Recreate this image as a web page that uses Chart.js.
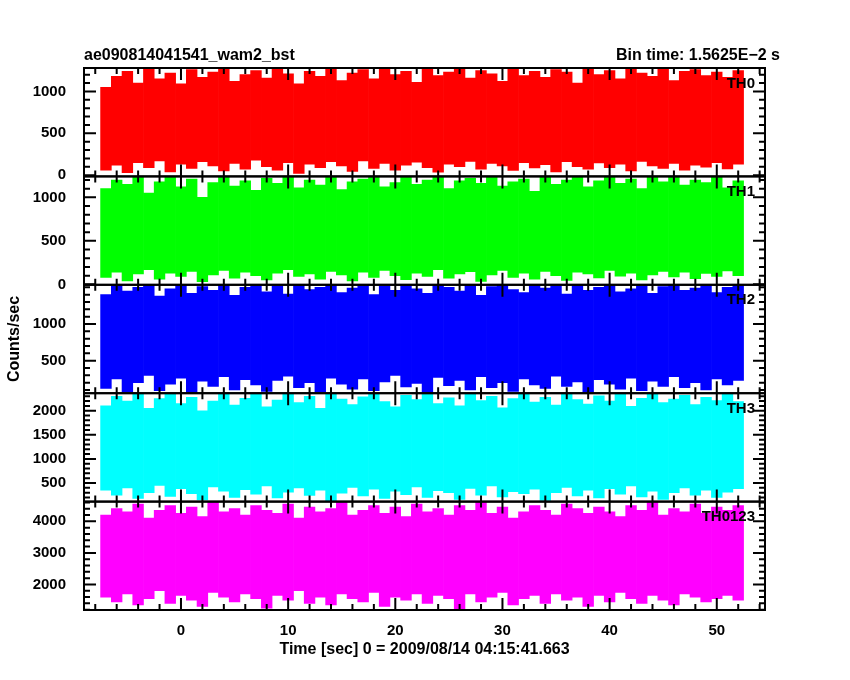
<!DOCTYPE html>
<html><head><meta charset="utf-8">
<script src="https://cdn.jsdelivr.net/npm/chart.js@4"></script>
<style>html,body{margin:0;background:#fff}#wrap{width:850px;height:680px}</style>
</head><body><div id="wrap"><canvas id="c"></canvas></div>
<script>
// time bins (sec, relative to 2009/08/14 04:15:41.663)
const binCenters = [];
for (let t = -7; t <= 52; t++) binCenters.push(t);

const panelNames = ['TH0', 'TH1', 'TH2', 'TH3', 'TH0123'];
const panelColors = ['#ff0000', '#00ff00', '#0000ff', '#00ffff', '#ff00ff'];
const panelRanges = [[-15, 1280], [-5, 1241], [56, 1535], [114, 2364], [1190, 4625]];
const majorTicks = [[0, 500, 1000], [0, 500, 1000], [500, 1000], [500, 1000, 1500, 2000], [2000, 3000, 4000]];
const minorStep = [100, 100, 100, 100, 200];
const xMajor = [0, 10, 20, 30, 40, 50];

const th0Hi = [1050,1180,1240,1100,1280,1150,1220,1090,1260,1170,1230,1280,1120,1200,1250,1160,1280,1210,1090,1240,1180,1270,1130,1220,1260,1150,1280,1200,1240,1110,1270,1190,1230,1280,1160,1250,1210,1120,1280,1190,1240,1170,1260,1230,1100,1280,1200,1250,1150,1270,1220,1180,1280,1130,1240,1260,1190,1230,1170,1250];
const th0Lo = [60,120,30,150,90,170,40,130,80,160,110,50,140,70,180,100,60,150,20,130,90,160,110,45,170,80,140,60,120,155,90,35,130,100,165,70,140,110,55,150,85,125,40,160,100,70,145,90,130,50,165,110,80,140,60,120,95,150,75,130];
const th1Hi = [1100,1200,1150,1240,1050,1180,1230,1120,1210,1000,1170,1240,1130,1190,1080,1220,1160,1240,1110,1200,1140,1230,1090,1180,1210,1240,1120,1170,1230,1150,1200,1240,1100,1190,1220,1160,1240,1130,1180,1210,1070,1240,1150,1200,1230,1120,1190,1240,1160,1210,1100,1230,1180,1240,1140,1200,1170,1230,1110,1190];
const th1Lo = [80,140,40,120,170,60,130,90,150,30,110,160,70,140,100,50,130,170,90,120,60,150,110,40,140,80,160,100,55,130,90,170,70,120,145,35,110,160,80,130,60,150,100,45,140,120,75,160,95,130,50,110,150,85,140,65,125,90,155,100];
const th2Hi = [1400,1535,1450,1500,1535,1380,1480,1535,1420,1510,1460,1535,1390,1500,1535,1440,1520,1410,1535,1470,1500,1535,1430,1490,1535,1400,1520,1460,1535,1480,1420,1535,1500,1450,1535,1390,1510,1535,1470,1430,1535,1490,1520,1410,1535,1460,1500,1535,1440,1480,1535,1420,1510,1535,1460,1490,1535,1430,1500,1535];
const th2Lo = [120,250,70,200,300,90,180,260,60,220,150,280,100,240,170,80,230,290,130,200,70,260,180,110,250,90,210,300,140,190,60,270,160,230,100,280,130,200,80,250,170,120,290,150,210,70,240,180,110,260,90,220,150,280,130,200,100,250,170,230];
const th3Hi = [2100,2300,2200,2364,2050,2250,2364,2150,2280,2000,2200,2364,2120,2260,2340,2080,2220,2364,2170,2300,2050,2364,2240,2130,2290,2364,2190,2080,2320,2230,2364,2150,2270,2100,2364,2210,2300,2060,2250,2364,2180,2280,2120,2364,2230,2140,2310,2200,2364,2090,2260,2364,2170,2240,2320,2130,2280,2210,2364,2190];
const th3Lo = [350,250,400,180,300,450,220,380,280,150,420,330,200,360,270,440,190,310,400,240,350,130,290,410,230,370,180,330,260,420,200,340,300,160,390,250,440,210,320,280,370,140,300,410,230,350,190,380,270,440,210,330,160,300,400,250,350,200,310,380];
const th0123Hi = [4200,4400,4300,4550,4100,4350,4500,4250,4450,4150,4600,4300,4400,4200,4500,4350,4250,4550,4100,4450,4300,4400,4600,4200,4350,4500,4250,4450,4150,4550,4300,4400,4200,4500,4350,4600,4250,4450,4100,4300,4500,4350,4200,4550,4400,4250,4450,4300,4150,4500,4350,4600,4200,4400,4300,4550,4250,4450,4350,4500];
const th0123Lo = [1600,1450,1700,1350,1550,1800,1400,1650,1500,1300,1750,1600,1450,1700,1550,1250,1650,1500,1800,1400,1600,1350,1700,1550,1450,1750,1300,1600,1500,1700,1400,1650,1550,1200,1700,1450,1600,1750,1350,1550,1650,1400,1700,1500,1600,1300,1650,1450,1750,1550,1400,1650,1500,1350,1700,1600,1450,1550,1650,1500];
const hiSeries = [th0Hi, th1Hi, th2Hi, th3Hi, th0123Hi];
const loSeries = [th0Lo, th1Lo, th2Lo, th3Lo, th0123Lo];

const FONT = 'Liberation Sans';
const datasets = panelNames.map((n, i) => ({
  type: 'bar', label: n, yAxisID: 'y' + i,
  data: binCenters.map((t, k) => ({ x: t, y: [loSeries[i][k], hiSeries[i][k]] })),
  backgroundColor: panelColors[i], borderWidth: 0, barPercentage: 1, categoryPercentage: 1, grouped: false
}));

const scales = {
  x: {
    type: 'linear', min: -9.05, max: 54.5, offset: false,
    afterBuildTicks: s => { s.ticks = xMajor.map(v => ({ value: v })); },
    afterFit: s => { s.height = 50; },
    grid: { display: false }, border: { display: false },
    ticks: { color: '#000', font: { family: FONT, size: 15, weight: 'bold' }, padding: 4, maxRotation: 0, autoSkip: false, callback: v => String(v) }
  }
};
// stacked axes are laid out bottom-up, so add the bottom panel first
for (let i = panelNames.length - 1; i >= 0; i--) {
  scales['y' + i] = {
    type: 'linear', position: 'left', stack: 'panels', stackWeight: 1,
    min: panelRanges[i][0], max: panelRanges[i][1],
    afterBuildTicks: s => { s.ticks = majorTicks[i].map(v => ({ value: v })); },
    afterFit: s => { s.width = 84; },
    grid: { display: false }, border: { display: false },
    ticks: { color: '#000', font: { family: FONT, size: 15, weight: 'bold' }, padding: 10, autoSkip: false, callback: v => String(v) }
  };
}

const frame = {
  id: 'frame',
  afterDraw(chart) {
    const ctx = chart.ctx, a = chart.chartArea, xs = chart.scales.x;
    ctx.save();
    ctx.strokeStyle = '#000';
    ctx.lineWidth = 2;
    panelNames.forEach((n, i) => {
      const s = chart.scales['y' + i];
      ctx.strokeRect(a.left, s.top, a.right - a.left, s.bottom - s.top);
      const first = Math.ceil(s.min / minorStep[i]) * minorStep[i];
      for (let v = first; v <= s.max; v += minorStep[i]) {
        const y = s.getPixelForValue(v);
        const len = majorTicks[i].includes(v) ? 12 : 6;
        ctx.beginPath();
        ctx.moveTo(a.left, y); ctx.lineTo(a.left + len, y);
        ctx.moveTo(a.right, y); ctx.lineTo(a.right - len, y);
        ctx.stroke();
      }
      for (let t = -8; t <= 54; t += 2) {
        const x = xs.getPixelForValue(t);
        const len = t % 10 === 0 ? 12 : 6;
        ctx.beginPath();
        ctx.moveTo(x, s.bottom); ctx.lineTo(x, s.bottom - len);
        ctx.moveTo(x, s.top); ctx.lineTo(x, s.top + len);
        ctx.stroke();
      }
      ctx.fillStyle = '#000';
      ctx.font = 'bold 15px ' + FONT;
      ctx.textAlign = 'right'; ctx.textBaseline = 'top';
      ctx.fillText(n, a.right - 10, s.top + 8);
    });
    ctx.font = 'bold 16px ' + FONT;
    ctx.textBaseline = 'alphabetic';
    ctx.textAlign = 'left';
    ctx.fillText('ae090814041541_wam2_bst', a.left, 60);
    ctx.textAlign = 'right';
    ctx.fillText('Bin time: 1.5625E\u22122 s', 780, 60);
    ctx.textAlign = 'center';
    ctx.fillText('Time [sec] 0 = 2009/08/14 04:15:41.663', (a.left + a.right) / 2, 654);
    ctx.translate(19, (a.top + a.bottom) / 2);
    ctx.rotate(-Math.PI / 2);
    ctx.fillText('Counts/sec', 0, 0);
    ctx.restore();
  }
};

new Chart(document.getElementById('c'), {
  type: 'bar',
  data: { datasets },
  options: {
    responsive: true, maintainAspectRatio: false, animation: false,
    layout: { padding: { left: 0, top: 68, right: 85, bottom: 20 } },
    plugins: { legend: { display: false }, tooltip: { enabled: false } },
    scales
  },
  plugins: [frame]
});
</script></body></html>
